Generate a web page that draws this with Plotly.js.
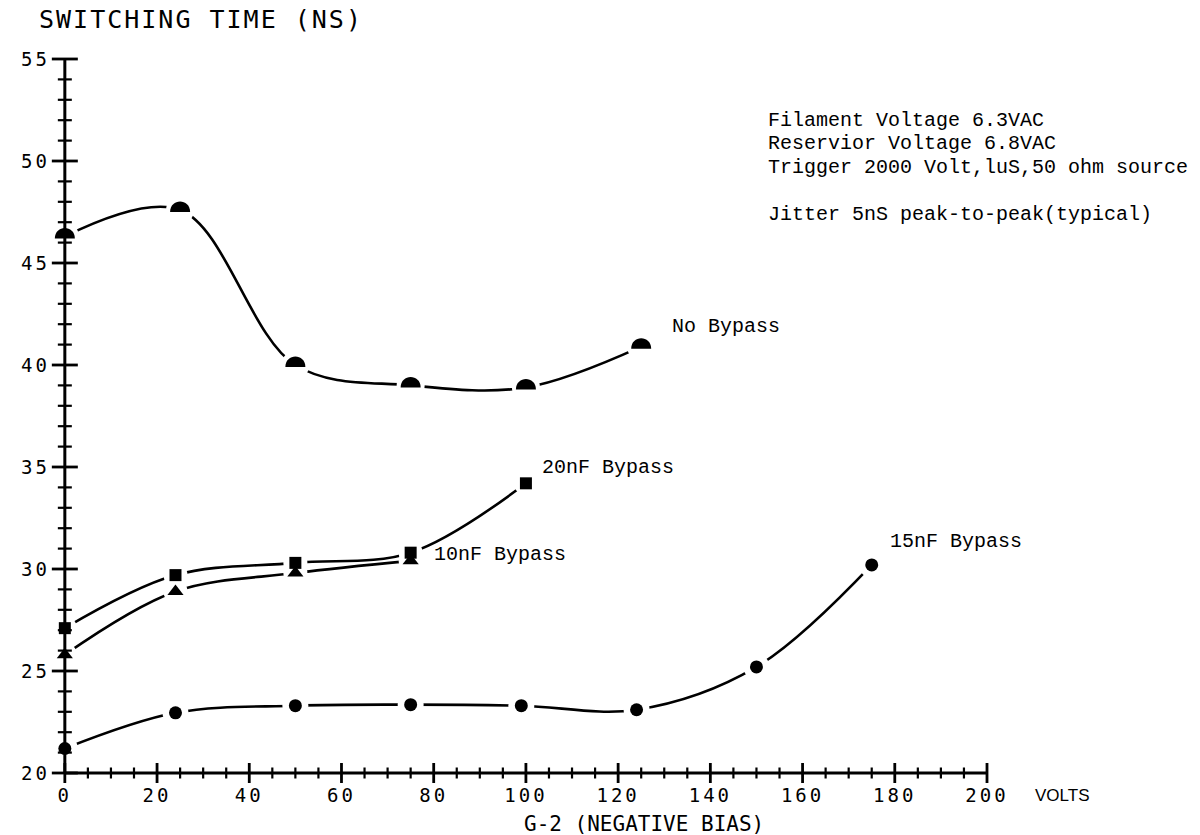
<!DOCTYPE html>
<html>
<head>
<meta charset="utf-8">
<script src="https://cdn.plot.ly/plotly-3.0.1.min.js"></script>
<style>
html,body{margin:0;padding:0;background:#fff;}
#chart{width:1200px;height:835px;}
.xtick text,.ytick text{letter-spacing:3px;}
.gtitle{letter-spacing:2px;}
</style>
</head>
<body>
<div id="chart"></div>
<script>
// ---- data ----
const voltsNoBypass = [0, 25, 50, 75, 100, 125];
const timeNoBypass  = [46.3, 47.6, 40.0, 39.0, 38.9, 40.9];

const volts20nF = [0, 24, 50, 75, 100];
const time20nF  = [27.1, 29.7, 30.3, 30.8, 34.2];

const volts10nF = [0, 24, 50, 75];
const time10nF  = [25.8, 28.9, 29.8, 30.4];

const volts15nF = [0, 24, 50, 75, 99, 124, 150, 175];
const time15nF  = [21.2, 22.95, 23.3, 23.35, 23.3, 23.1, 25.2, 30.2];

const seriesNames = ['No Bypass', '20nF Bypass', '10nF Bypass', '15nF Bypass'];
const notes = [
  'Filament Voltage 6.3VAC',
  'Reservior Voltage 6.8VAC',
  'Trigger 2000 Volt,luS,50 ohm source',
  'Jitter 5nS peak-to-peak(typical)'
];
const yTitle = 'SWITCHING TIME (NS)';
const xTitle = 'G-2 (NEGATIVE BIAS)';
const xUnit = 'VOLTS';

const xScale = [0, 200];      // drawn axis extent
const yScale = [20, 55];
const xRange = [-3, 200];     // plot window (a little room so markers at 0 are not clipped)
const yRange = [20, 55];
const xMajor = 20, xMinor = 5, yMajor = 5, yMinor = 1;

const series = [
  {x: voltsNoBypass, y: timeNoBypass, sym: null, gap: 28},
  {x: volts20nF, y: time20nF, sym: 'square', size: 12, gap: 24},
  {x: volts10nF, y: time10nF, sym: 'triangle-up', size: 14, gap: 24},
  {x: volts15nF, y: time15nF, sym: 'circle', size: 13, gap: 26}
];

const traces = [];
series.forEach((s, i) => {
  traces.push({x: s.x, y: s.y, mode: 'lines', type: 'scatter', name: seriesNames[i],
    line: {color: '#000000', width: 2.6, shape: 'spline', smoothing: 1}, showlegend: false});
});
series.forEach((s, i) => {
  traces.push({x: s.x, y: s.y, mode: 'markers', type: 'scatter', name: seriesNames[i] + ' gap',
    marker: {color: '#ffffff', size: s.gap}, showlegend: false});
});
series.forEach((s, i) => {
  if (!s.sym) return;
  traces.push({x: s.x, y: s.y, mode: 'markers', type: 'scatter', name: seriesNames[i],
    marker: {symbol: s.sym, color: '#000000', size: s.size}, showlegend: false});
});

const toFrac = (v, r) => (v - r[0]) / (r[1] - r[0]);
const shapes = [];
// axis lines
shapes.push({type: 'line', layer: 'above', xref: 'paper', yref: 'paper',
  x0: toFrac(xScale[0], xRange), x1: toFrac(xScale[1], xRange),
  y0: toFrac(yScale[0], yRange), y1: toFrac(yScale[0], yRange), line: {color: '#000', width: 3}});
shapes.push({type: 'line', layer: 'above', xref: 'paper', yref: 'paper',
  x0: toFrac(xScale[0], xRange), x1: toFrac(xScale[0], xRange),
  y0: toFrac(yScale[0], yRange), y1: toFrac(yScale[1], yRange), line: {color: '#000', width: 3}});
// dome-shaped markers for the "No Bypass" curve
voltsNoBypass.forEach((v, k) => shapes.push({
  type: 'path', layer: 'above', xref: 'paper', yref: 'paper',
  xsizemode: 'pixel', ysizemode: 'pixel',
  xanchor: toFrac(v, xRange), yanchor: toFrac(timeNoBypass[k], yRange),
  path: 'M -10,-2 C -10,12 10,12 10,-2 Z',
  fillcolor: '#000', line: {width: 0}
}));
// tick marks that cross the axes (plotter style)
for (let v = yScale[0]; v <= yScale[1] + 1e-9; v += yMinor) {
  const major = Math.abs(v % yMajor) < 1e-9;
  const h = major ? 13 : 7;
  shapes.push({type: 'line', layer: 'above', xref: 'paper', yref: 'paper',
    xsizemode: 'pixel', ysizemode: 'pixel', xanchor: toFrac(xScale[0], xRange), yanchor: toFrac(v, yRange),
    x0: -h, x1: h, y0: 0, y1: 0, line: {color: '#000', width: major ? 2.8 : 2.2}});
}
for (let v = xScale[0]; v <= xScale[1] + 1e-9; v += xMinor) {
  const major = Math.abs(v % xMajor) < 1e-9;
  const h = major ? 10 : 5.5;
  shapes.push({type: 'line', layer: 'above', xref: 'paper', yref: 'paper',
    xsizemode: 'pixel', ysizemode: 'pixel', xanchor: toFrac(v, xRange), yanchor: toFrac(yScale[0], yRange),
    x0: 0, x1: 0, y0: -h, y1: h, line: {color: '#000', width: major ? 2.8 : 2.2}});
}

const monoFont = 'DejaVu Sans Mono, Liberation Mono, monospace';
const noteFont = {family: 'Liberation Mono, DejaVu Sans Mono, monospace', size: 20, color: '#000'};

// plot window in pixels: x=0 sits at 65 px, x=200 at 987 px
const pxPerVolt = 922 / 200;
const L = 65 + xRange[0] * pxPerVolt, W = 987 - L, H = 714, T = 59;
const px2x = px => (px - L) / W;
const py2y = py => (T + H - py) / H;

const annotations = [];
const noteY = [120, 143, 167, 214];
notes.forEach((t, i) => annotations.push({text: t, xref: 'paper', yref: 'paper',
  x: px2x(766), y: py2y(noteY[i]), xanchor: 'left', yanchor: 'middle', showarrow: false, font: noteFont}));
const labelShift = [[29, 20], [14, 16], [21, 6], [16, 23]];
series.forEach((s, i) => {
  const n = s.x.length - 1;
  annotations.push({text: seriesNames[i], x: s.x[n], y: s.y[n], xref: 'x', yref: 'y',
    xanchor: 'left', yanchor: 'middle', xshift: labelShift[i][0], yshift: labelShift[i][1],
    showarrow: false, font: noteFont});
});
annotations.push({text: xTitle, xref: 'paper', yref: 'paper', x: px2x(522), y: py2y(824),
  xanchor: 'left', yanchor: 'middle', showarrow: false,
  font: {family: monoFont, size: 21, color: '#000'}});
annotations.push({text: xUnit, xref: 'paper', yref: 'paper', x: px2x(1033), y: py2y(796),
  xanchor: 'left', yanchor: 'middle', showarrow: false,
  font: {family: 'Liberation Sans, Arial, sans-serif', size: 17, color: '#000'}});

const tickFont = {family: monoFont, size: 19, color: '#000'};
const layout = {
  width: 1200, height: 835,
  margin: {l: L, r: 1200 - L - W, t: T, b: 835 - T - H, pad: 0},
  paper_bgcolor: '#fff', plot_bgcolor: '#fff',
  showlegend: false,
  title: {text: yTitle, xref: 'container', yref: 'container', x: 39 / 1200, xanchor: 'left',
    y: 1 - 19 / 835, yanchor: 'middle', font: {family: monoFont, size: 25, color: '#000'}},
  xaxis: {range: xRange, showgrid: false, zeroline: false, showline: false,
    tickmode: 'linear', tick0: xScale[0], dtick: xMajor, ticks: '',
    tickfont: tickFont, ticklabelstandoff: 9, fixedrange: true},
  yaxis: {range: yRange, showgrid: false, zeroline: false, showline: false,
    tickmode: 'linear', tick0: yScale[0], dtick: yMajor, ticks: '',
    tickfont: tickFont, ticklabelstandoff: 0, fixedrange: true},
  shapes: shapes,
  annotations: annotations
};

Plotly.newPlot('chart', traces, layout, {displayModeBar: false});
</script>
</body>
</html>
